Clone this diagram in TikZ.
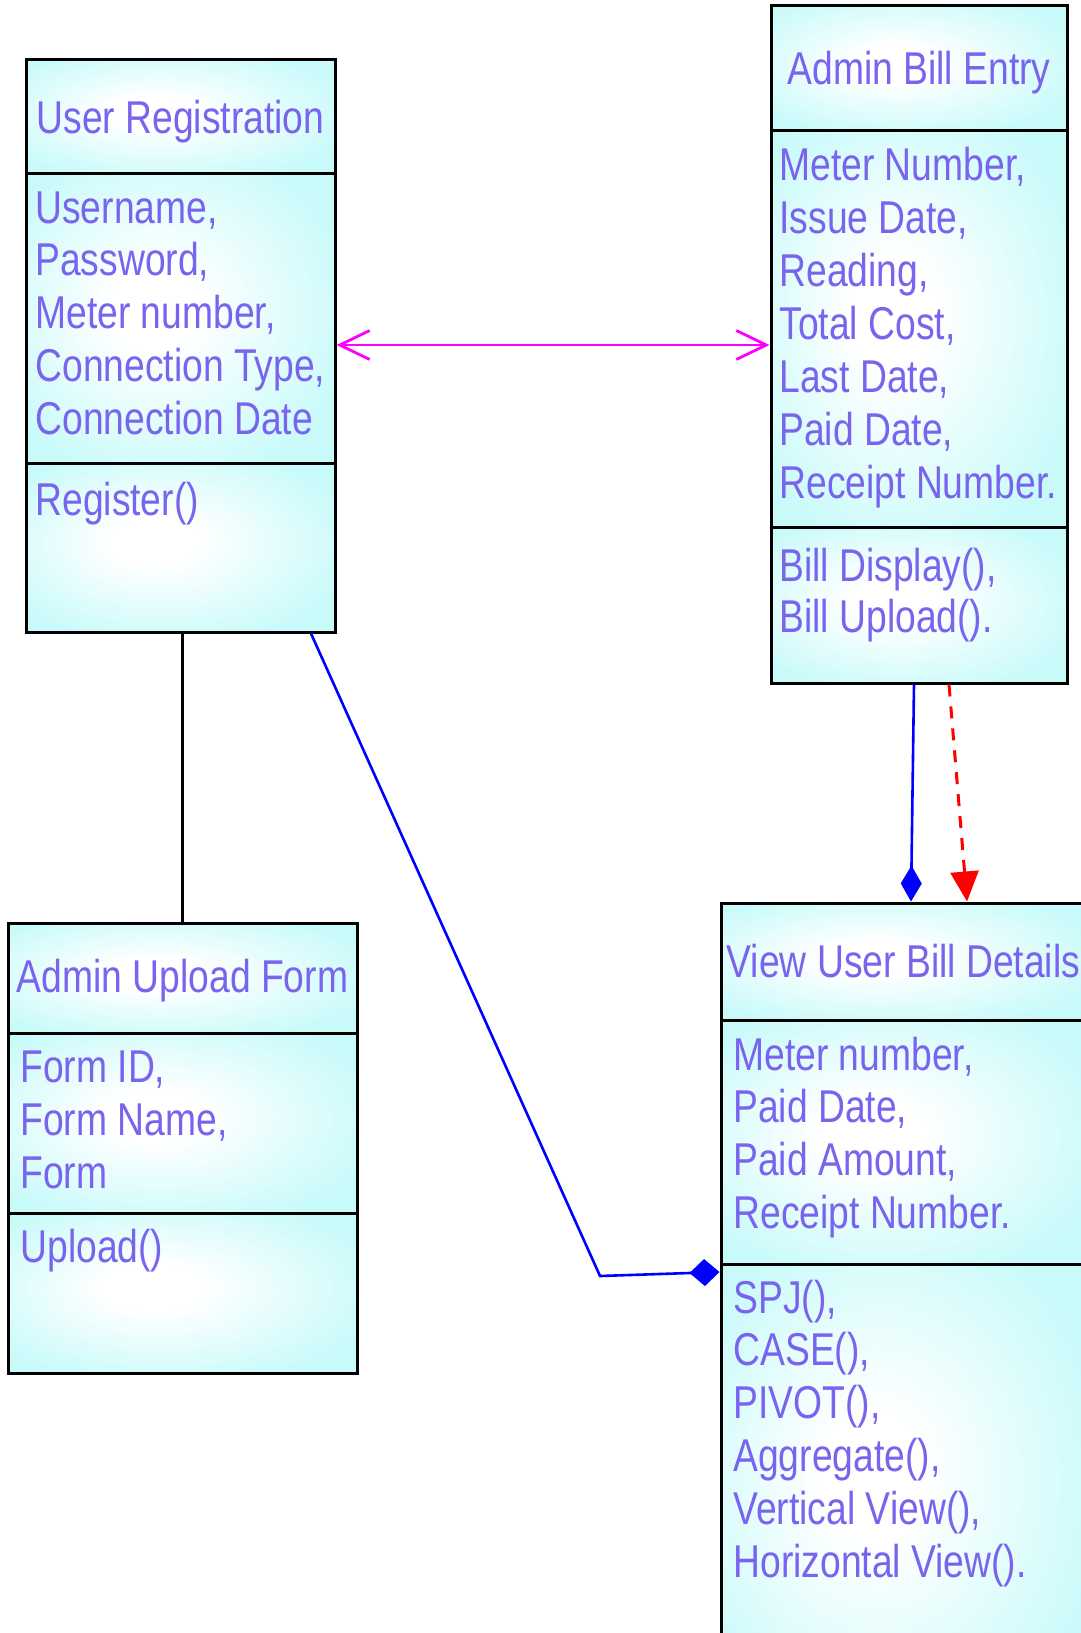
\documentclass[tikz,border=0pt]{standalone}
\usepackage{fontspec}
\setmainfont{Liberation Sans}[FakeStretch=0.81]
\usetikzlibrary{arrows.meta}
\usetikzlibrary{fit}
\definecolor{umltext}{RGB}{120,100,238}
\definecolor{umlfill}{RGB}{200,250,250}
\definecolor{linkpink}{RGB}{255,0,255}
\pgfdeclareradialshading{umlshade}{\pgfpoint{-5bp}{2bp}}{color(0bp)=(white); color(7bp)=(white); color(31bp)=(umlfill); color(50bp)=(umlfill)}

\begin{document}
\begin{tikzpicture} [x=0.5pt, y=-0.5pt,
  part/.style={draw=black, line width=1.5pt, shade, shading=umlshade, inner sep=0},
  title/.style={anchor=base, inner sep=0, text=umltext, font=\fontsize{23}{26}\selectfont},
  member/.style={anchor=base west, inner sep=0, text=umltext, font=\fontsize{23}{26}\selectfont},
  plain/.style={draw=black, line width=1.3pt},
  assoc/.style={draw=linkpink, line width=1.4pt, <->, >={Straight Barb[length=15pt,width=14.5pt]}},
  compose/.style={draw=blue, line width=1.3pt},
  depend/.style={draw=red, line width=1.5pt, dash pattern=on 6pt off 5pt, -{Triangle[length=15pt,width=14pt]}}]
\useasboundingbox (0,0) rectangle (1081,1633);
\clip (0,0) rectangle (1081,1633);

% User Registration
\node[part, fit={(26,59) (335,173)}] (uregH) {};
\node[part, fit={(26,173) (335,463)}] (uregA) {};
\node[part, fit={(26,463) (335,632)}] (uregM) {};
\node[title] (uregT) at (uregH.center |- 0,133) {User Registration};
\foreach \t [count=\i] in {{Username,}, {Password,}, {Meter number,}, {Connection Type,}, {Connection Date}}
  \node[member] (uregA\i) at (35,{223+52.75*(\i-1)}) {\t};
\node[member] (uregM1) at (35,515) {Register()};

% Admin Bill Entry
\node[part, fit={(771,5) (1067,130)}] (billH) {};
\node[part, fit={(771,130) (1067,527)}] (billA) {};
\node[part, fit={(771,527) (1067,683)}] (billM) {};
\node[title] (billT) at (billH.center |- 0,84) {Admin Bill Entry};
\foreach \t [count=\i] in {{Meter Number,}, {Issue Date,}, {Reading,}, {Total Cost,}, {Last Date,}, {Paid Date,}, {Receipt Number.}}
  \node[member] (billA\i) at (779,{180+53*(\i-1)}) {\t};
\foreach \t [count=\i] in {{Bill Display(),}, {Bill Upload().}}
  \node[member] (billM\i) at (779,{581+51*(\i-1)}) {\t};

% Admin Upload Form
\node[part, fit={(8,923) (357,1033)}] (uploadH) {};
\node[part, fit={(8,1033) (357,1213)}] (uploadA) {};
\node[part, fit={(8,1213) (357,1373)}] (uploadM) {};
\node[title] (uploadT) at (uploadH.center |- 0,992) {Admin Upload Form};
\foreach \t [count=\i] in {{Form ID,}, {Form Name,}, {Form}}
  \node[member] (uploadA\i) at (20,{1082+53*(\i-1)}) {\t};
\node[member] (uploadM1) at (20,1262) {Upload()};

% View User Bill Details
\node[part, fit={(721,903) (1086,1020)}] (viewH) {};
\node[part, fit={(721,1020) (1086,1264)}] (viewA) {};
\node[part, fit={(721,1264) (1086,1720)}] (viewM) {};
\node[title] (viewT) at (viewH.center |- 0,977) {View User Bill Details};
\foreach \t [count=\i] in {{Meter number,}, {Paid Date,}, {Paid Amount,}, {Receipt Number.}}
  \node[member] (viewA\i) at (733,{1070+52.7*(\i-1)}) {\t};
\foreach \t [count=\i] in {{SPJ(),}, {CASE(),}, {PIVOT(),}, {Aggregate(),}, {Vertical View(),}, {Horizontal View().}}
  \node[member] (viewM\i) at (733,{1313+52.8*(\i-1)}) {\t};

% links
\coordinate (bend) at (600,1276);
\draw[assoc] (uregA.east |- 0,345) -- (billA.west |- 0,345);
\draw[plain] (uploadH.north |- uregM.south) -- (uploadH.north);
\draw[compose, -{Diamond[length=15pt,width=13.5pt]}] (uregM.south -| 311,0) -- (bend) -- (viewM.west |- 0,1272);
\draw[compose, -{Diamond[length=18pt,width=10.5pt]}] (billM.south -| 914,0) -- (viewH.north -| 911,0);
\draw[depend] (billM.south -| 949,0) -- (viewH.north -| 967,0);
\end{tikzpicture}
\end{document}
